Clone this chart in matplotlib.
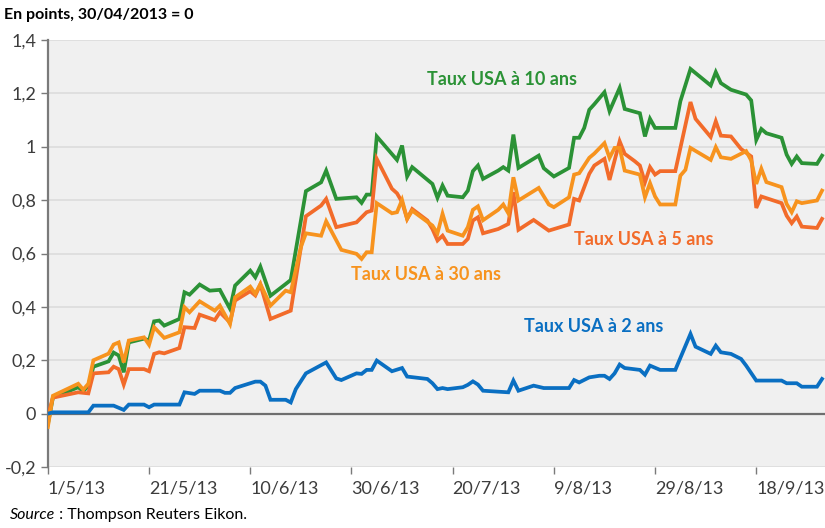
import numpy as np
import pandas as pd
import matplotlib
matplotlib.use('Agg')
import matplotlib.pyplot as plt
import matplotlib.transforms as mtransforms
from matplotlib.ticker import FuncFormatter

# Variation des taux depuis le 30/04/2013 (en points) - sommets
dates_10 = ['01/05', '02/05', '07/05', '08/05', '09/05', '10/05', '13/05', '14/05', '15/05', '16/05',
            '17/05', '20/05', '21/05', '22/05', '23/05', '24/05', '27/05', '28/05', '29/05', '31/05',
            '02/06', '04/06', '06/06', '07/06', '10/06', '11/06', '12/06', '14/06', '17/06', '18/06',
            '21/06', '24/06', '25/06', '27/06', '01/07', '02/07', '03/07', '04/07', '05/07', '09/07',
            '10/07', '11/07', '12/07', '16/07', '17/07', '18/07', '19/07', '22/07', '23/07', '24/07',
            '25/07', '26/07', '29/07', '30/07', '31/07', '01/08', '02/08', '06/08', '07/08', '09/08',
            '12/08', '13/08', '14/08', '15/08', '16/08', '17/08', '19/08', '20/08', '22/08', '23/08',
            '26/08', '27/08', '28/08', '29/08', '02/09', '03/09', '05/09', '09/09', '10/09', '11/09',
            '13/09', '16/09', '17/09', '18/09', '19/09', '20/09', '23/09', '24/09', '25/09', '26/09',
            '27/09', '30/09', '01/10']
taux_10 = [-0.04, 0.06, 0.099, 0.084, 0.105, 0.176, 0.196, 0.229, 0.218, 0.155,
           0.267, 0.281, 0.274, 0.346, 0.349, 0.33, 0.355, 0.455, 0.446, 0.484,
           0.461, 0.464, 0.393, 0.48, 0.536, 0.511, 0.551, 0.442, 0.486, 0.501,
           0.834, 0.867, 0.911, 0.805, 0.811, 0.79, 0.821, 0.821, 1.039, 0.951,
           1.005, 0.889, 0.924, 0.861, 0.809, 0.855, 0.817, 0.811, 0.836, 0.909,
           0.93, 0.88, 0.911, 0.924, 0.911, 1.046, 0.921, 0.967, 0.92, 0.889,
           0.921, 1.034, 1.034, 1.071, 1.139, 1.16, 1.205, 1.134, 1.221, 1.142,
           1.126, 1.039, 1.105, 1.071, 1.071, 1.171, 1.292, 1.23, 1.28, 1.239,
           1.214, 1.196, 1.174, 1.026, 1.067, 1.051, 1.034, 0.971, 0.936, 0.964,
           0.939, 0.936, 0.967]

dates_5 = ['01/05', '02/05', '07/05', '09/05', '10/05', '13/05', '14/05', '15/05', '16/05', '17/05',
           '20/05', '21/05', '22/05', '23/05', '24/05', '27/05', '28/05', '30/05', '31/05', '03/06',
           '04/06', '06/06', '07/06', '10/06', '11/06', '12/06', '14/06', '18/06', '21/06', '24/06',
           '25/06', '27/06', '01/07', '03/07', '04/07', '05/07', '08/07', '09/07', '10/07', '11/07',
           '12/07', '15/07', '16/07', '17/07', '18/07', '19/07', '22/07', '23/07', '24/07', '25/07',
           '26/07', '29/07', '31/07', '01/08', '02/08', '05/08', '08/08', '12/08', '13/08', '14/08',
           '16/08', '17/08', '19/08', '20/08', '22/08', '23/08', '25/08', '26/08', '27/08', '28/08',
           '29/08', '30/08', '02/09', '05/09', '06/09', '09/09', '10/09', '11/09', '13/09', '15/09',
           '17/09', '18/09', '19/09', '23/09', '24/09', '25/09', '26/09', '27/09', '30/09', '01/10']
taux_5 = [-0.01, 0.06, 0.08, 0.076, 0.151, 0.155, 0.176, 0.167, 0.109, 0.167,
          0.167, 0.159, 0.224, 0.23, 0.226, 0.246, 0.324, 0.321, 0.371, 0.351,
          0.38, 0.342, 0.424, 0.459, 0.443, 0.484, 0.355, 0.386, 0.74, 0.78,
          0.805, 0.699, 0.717, 0.755, 0.761, 0.955, 0.843, 0.826, 0.793, 0.73,
          0.767, 0.724, 0.692, 0.649, 0.667, 0.636, 0.636, 0.655, 0.724, 0.736,
          0.676, 0.692, 0.711, 0.83, 0.689, 0.726, 0.686, 0.709, 0.805, 0.799,
          0.899, 0.93, 0.955, 0.876, 1.021, 0.974, 0.946, 0.93, 0.867, 0.924,
          0.896, 0.909, 0.909, 1.168, 1.105, 1.037, 1.096, 1.042, 1.039, 0.992,
          0.964, 0.771, 0.814, 0.789, 0.742, 0.714, 0.739, 0.701, 0.696, 0.73]

dates_30 = ['01/05', '02/05', '07/05', '08/05', '09/05', '10/05', '13/05', '14/05', '15/05', '16/05',
            '17/05', '20/05', '21/05', '22/05', '24/05', '27/05', '28/05', '29/05', '31/05', '03/06',
            '04/06', '06/06', '07/06', '10/06', '11/06', '12/06', '14/06', '17/06', '18/06', '20/06',
            '21/06', '24/06', '25/06', '28/06', '01/07', '02/07', '03/07', '04/07', '05/07', '08/07',
            '09/07', '10/07', '11/07', '12/07', '16/07', '17/07', '18/07', '19/07', '22/07', '23/07',
            '24/07', '25/07', '26/07', '29/07', '30/07', '31/07', '01/08', '02/08', '06/08', '08/08',
            '09/08', '12/08', '13/08', '14/08', '16/08', '17/08', '19/08', '20/08', '21/08', '22/08',
            '23/08', '26/08', '27/08', '28/08', '29/08', '30/08', '02/09', '03/09', '04/09', '05/09',
            '09/09', '10/09', '11/09', '13/09', '16/09', '17/09', '18/09', '19/09', '20/09', '23/09',
            '24/09', '25/09', '26/09', '27/09', '30/09', '01/10']
taux_30 = [-0.05, 0.067, 0.112, 0.09, 0.112, 0.2, 0.225, 0.259, 0.267, 0.192,
           0.274, 0.286, 0.258, 0.324, 0.284, 0.305, 0.399, 0.38, 0.421, 0.386,
           0.405, 0.336, 0.436, 0.476, 0.449, 0.486, 0.405, 0.461, 0.455, 0.624,
           0.676, 0.667, 0.721, 0.614, 0.599, 0.58, 0.605, 0.605, 0.789, 0.751,
           0.755, 0.801, 0.73, 0.761, 0.705, 0.676, 0.749, 0.686, 0.667, 0.699,
           0.764, 0.777, 0.725, 0.764, 0.784, 0.751, 0.886, 0.799, 0.846, 0.784,
           0.774, 0.811, 0.896, 0.901, 0.959, 0.975, 1.014, 0.959, 0.996, 0.996,
           0.911, 0.896, 0.811, 0.864, 0.814, 0.784, 0.784, 0.892, 0.914, 0.996,
           0.951, 0.999, 0.961, 0.955, 0.984, 0.949, 0.861, 0.918, 0.868, 0.849,
           0.786, 0.755, 0.796, 0.789, 0.799, 0.836]

dates_2 = ['01/05', '02/05', '09/05', '10/05', '14/05', '16/05', '17/05', '20/05', '21/05', '22/05',
           '27/05', '28/05', '30/05', '31/05', '04/06', '05/06', '06/06', '07/06', '11/06', '12/06',
           '13/06', '14/06', '17/06', '18/06', '19/06', '21/06', '25/06', '27/06', '28/06', '01/07',
           '02/07', '03/07', '04/07', '05/07', '08/07', '10/07', '11/07', '15/07', '16/07', '17/07',
           '18/07', '19/07', '22/07', '23/07', '24/07', '25/07', '26/07', '31/07', '01/08', '02/08',
           '05/08', '07/08', '12/08', '13/08', '14/08', '16/08', '18/08', '19/08', '20/08', '21/08',
           '22/08', '23/08', '26/08', '27/08', '28/08', '30/08', '02/09', '05/09', '06/09', '09/09',
           '10/09', '11/09', '13/09', '15/09', '16/09', '18/09', '23/09', '24/09', '26/09', '27/09',
           '30/09', '01/10']
taux_2 = [0.0, 0.005, 0.005, 0.03, 0.03, 0.014, 0.034, 0.034, 0.024, 0.034,
          0.034, 0.08, 0.074, 0.086, 0.086, 0.078, 0.078, 0.096, 0.12, 0.12,
          0.105, 0.052, 0.052, 0.042, 0.092, 0.151, 0.192, 0.132, 0.126, 0.151,
          0.149, 0.164, 0.164, 0.199, 0.159, 0.171, 0.139, 0.13, 0.114, 0.092,
          0.096, 0.092, 0.099, 0.108, 0.121, 0.109, 0.086, 0.08, 0.124, 0.086,
          0.105, 0.096, 0.096, 0.126, 0.117, 0.136, 0.142, 0.142, 0.13, 0.151,
          0.184, 0.171, 0.164, 0.146, 0.18, 0.164, 0.164, 0.299, 0.251, 0.224,
          0.255, 0.23, 0.224, 0.205, 0.18, 0.124, 0.124, 0.114, 0.114, 0.101,
          0.101, 0.13]

ticks_x = ['01/05', '21/05', '10/06', '30/06', '20/07', '09/08', '29/08', '18/09']
labels_x = ['1/5/13', '21/5/13', '10/6/13', '30/6/13', '20/7/13', '9/8/13', '29/8/13', '18/9/13']


def to_date(lst):
    return pd.to_datetime([s + '/2013' for s in lst], format='%d/%m/%Y')


# (dates, valeurs, couleur, libellé, position du libellé)
series = [
    (dates_10, taux_10, '#2b9236', 'Taux USA à 10 ans', ('15/07', 1.253)),
    (dates_5, taux_5, '#f26b2a', 'Taux USA à 5 ans', ('13/08', 0.653)),
    (dates_30, taux_30, '#f7931e', 'Taux USA à 30 ans', ('30/06', 0.52)),
    (dates_2, taux_2, '#0a6fc2', 'Taux USA à 2 ans', ('03/08', 0.326)),
]

plt.rcParams['font.family'] = ['Liberation Sans Narrow', 'Lato', 'DejaVu Sans']

fig = plt.figure(figsize=(8.25, 5.28), dpi=100)
ax = fig.add_axes([0.058, 0.1155, 0.942, 0.8085])
ax.set_facecolor('#f0f0f0')

for d, v, c, lab, pos in series:
    ax.plot(to_date(d), v, color=c, lw=2.7, solid_joinstyle='miter', zorder=3)
    ax.text(to_date([pos[0]])[0], pos[1], lab, color=c, ha='left', va='center',
            fontsize=13, fontweight='bold', family=['Lato', 'DejaVu Sans'], zorder=4)

ax.axhline(0, color='#6e6e6e', lw=1.6, zorder=2)

ax.set_ylim(-0.2, 1.4)
ax.set_yticks(np.arange(-0.2, 1.41, 0.2))
ax.yaxis.set_major_formatter(FuncFormatter(lambda v, p: ('%g' % round(v, 2)).replace('.', ',')))
ax.grid(axis='y', color='#dcdcdc', lw=1.2, zorder=0)
ax.set_axisbelow(True)

ax.set_xlim(pd.Timestamp('2013-05-01'), pd.Timestamp('2013-10-01 14:00'))
ax.set_xticks(to_date(ticks_x))
ax.set_xticklabels(labels_x)
offset = mtransforms.ScaledTranslation(-5 / 100, 0, fig.dpi_scale_trans)
for t in ax.get_xticklabels():
    t.set_horizontalalignment('left')
    t.set_transform(t.get_transform() + offset)

for s in ['top', 'right', 'bottom']:
    ax.spines[s].set_visible(False)
ax.spines['left'].set_color('#7a7a7a')
ax.spines['left'].set_linewidth(1.6)

ax.tick_params(axis='both', colors='#7a7a7a', labelcolor='#3c3c3c', labelsize=13, length=5, width=1)
ax.tick_params(axis='x', pad=5)

fig.text(0.005, 0.972, 'En points, 30/04/2013 = 0', fontsize=11.5, fontweight='bold',
         family=['Lato', 'DejaVu Sans'], ha='left', va='center')
src = fig.text(0.012, 0.024, 'Source', fontsize=11.5, style='italic', ha='left', va='center')
ax.annotate(' : Thompson Reuters Eikon.', xy=(1, 0.5), xycoords=src, va='center', ha='left',
            fontsize=11.5, annotation_clip=False)

fig.savefig('out.png', dpi=100)
